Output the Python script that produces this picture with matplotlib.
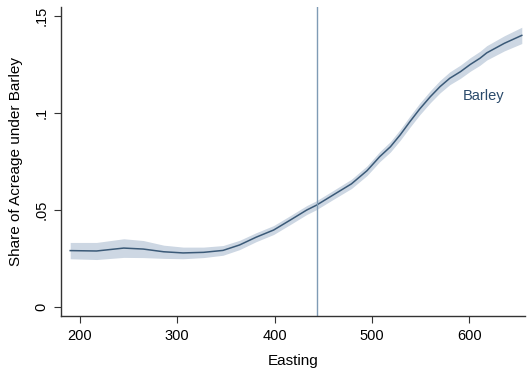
import numpy as np
import matplotlib
matplotlib.use("Agg")
import matplotlib.pyplot as plt

plt.rcParams['font.family'] = ['Liberation Sans', 'DejaVu Sans']

# smoothed share of barley by easting
easting = [190, 217, 245, 265, 286, 306, 327, 347, 364, 381, 399, 416, 433,
           443, 460, 479, 495, 508, 519, 529, 539, 549, 560, 570, 580, 591,
           601, 611, 618, 636, 654]
share = [0.0291, 0.0289, 0.0304, 0.0299, 0.0285, 0.0279, 0.0282, 0.0292,
         0.0320, 0.0360, 0.0397, 0.0448, 0.0500, 0.0525, 0.0577, 0.0635,
         0.0703, 0.0775, 0.0826, 0.0887, 0.0955, 0.1020, 0.1084, 0.1136,
         0.1179, 0.1213, 0.1250, 0.1282, 0.1310, 0.1359, 0.1400]
half_ci = [0.0042, 0.0044, 0.0048, 0.0044, 0.0034, 0.0030, 0.0027, 0.0025,
           0.0024, 0.0023, 0.0023, 0.0023, 0.0023, 0.0023, 0.0023, 0.0024,
           0.0025, 0.0026, 0.0027, 0.0028, 0.0029, 0.0030, 0.0031, 0.0032,
           0.0033, 0.0034, 0.0035, 0.0036, 0.0037, 0.0039, 0.0042]
cutoff = 443.6

x = np.array(easting)
y = np.array(share)
h = np.array(half_ci)

fig = plt.figure(figsize=(5.27, 3.77), dpi=100)
ax = fig.add_axes([0.1157, 0.1618, 0.8805, 0.8195])

ax.fill_between(x, y - h, y + h, color='#cdd7e3', lw=0)
ax.plot(x, y, color='#3b5a78', lw=1.1, solid_joinstyle='round')
ax.axvline(cutoff, color='#7f9bb5', lw=1.0)
ax.text(615, 0.109, 'Barley', color='#2a4a6b', fontsize=10.5,
        ha='center', va='center')

ax.set_xlim(180.5, 657.3)
ax.set_ylim(-0.0046, 0.1546)
ax.set_xticks([200, 300, 400, 500, 600])
ax.set_yticks([0, 0.05, 0.1, 0.15])
ax.set_yticklabels(['0', '.05', '.1', '.15'], rotation=90, va='center')

for s in ['top', 'right']:
    ax.spines[s].set_visible(False)
for s in ['left', 'bottom']:
    ax.spines[s].set_color('#333333')
    ax.spines[s].set_linewidth(1.0)
ax.tick_params(direction='out', length=5, width=0.8, color='#333333',
               labelsize=10.5, pad=4)

ax.set_xlabel('Easting', fontsize=11, labelpad=8)
ax.set_ylabel('Share of Acreage under Barley', fontsize=11, labelpad=8)

fig.savefig('out.png', dpi=100)
